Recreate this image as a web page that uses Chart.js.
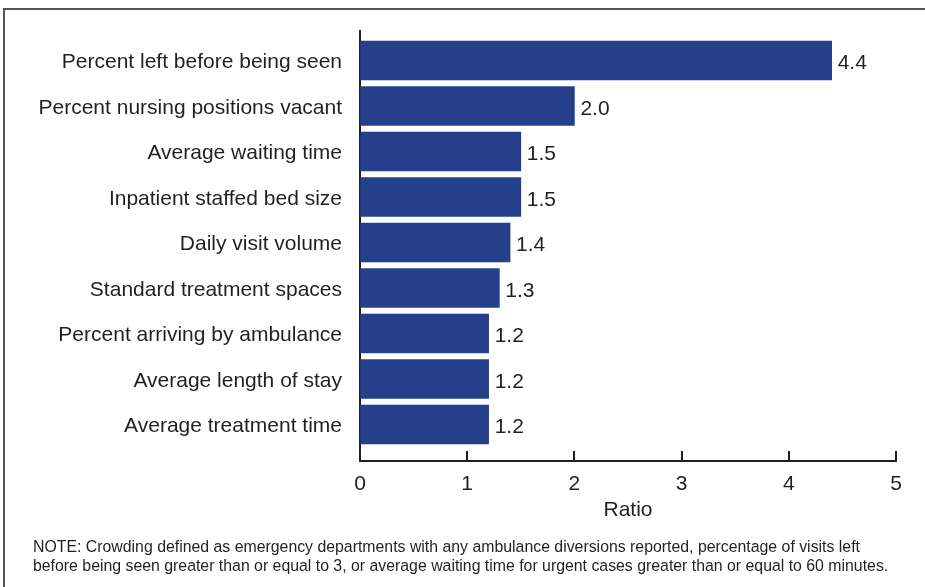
<!DOCTYPE html>
<html>
<head>
<meta charset="utf-8">
<script src="https://cdn.jsdelivr.net/npm/chart.js@4/dist/chart.umd.min.js"></script>
<style>
  html, body { margin: 0; padding: 0; background: #fff; }
  #wrap { position: relative; width: 925px; height: 587px; overflow: hidden; }
  #frame { position: absolute; left: 3px; top: 8px; width: 1000px; height: 700px;
           border-top: 2px solid #555; border-left: 2px solid #555; box-sizing: border-box; }
  canvas { position: absolute; left: 0; top: 0; }
  #note { position: absolute; left: 33px; top: 537px; font-family: "Liberation Sans", Arial, sans-serif;
          font-size: 15.85px; line-height: 19px; color: #231f20; white-space: nowrap; }
</style>
</head>
<body>
<div id="wrap">
  <div id="frame"></div>
  <canvas id="c" width="925" height="587"></canvas>
  <div id="note">NOTE: Crowding defined as emergency departments with any ambulance diversions reported, percentage of visits left<br>before being seen greater than or equal to 3, or average waiting time for urgent cases greater than or equal to 60 minutes.</div>
</div>
<script>
const categories = [
  "Percent left before being seen",
  "Percent nursing positions vacant",
  "Average waiting time",
  "Inpatient staffed bed size",
  "Daily visit volume",
  "Standard treatment spaces",
  "Percent arriving by ambulance",
  "Average length of stay",
  "Average treatment time"
];
const ratios = [4.4, 2.0, 1.5, 1.5, 1.4, 1.3, 1.2, 1.2, 1.2];
const xTicks = [0, 1, 2, 3, 4, 5];
const xTitle = "Ratio";

const INK = "#231f20";
const FONT = "'Liberation Sans', Arial, sans-serif";

const valueLabels = {
  id: "valueLabels",
  afterDatasetsDraw(chart) {
    const ctx = chart.ctx;
    const meta = chart.getDatasetMeta(0);
    ctx.save();
    ctx.fillStyle = INK;
    ctx.font = "21px " + FONT;
    ctx.textAlign = "left";
    ctx.textBaseline = "middle";
    meta.data.forEach((bar, i) => {
      ctx.fillText(ratios[i].toFixed(1), bar.x + 6, bar.y + 3);
    });
    ctx.restore();
  }
};

const innerTicks = {
  id: "innerTicks",
  afterDraw(chart) {
    const ctx = chart.ctx;
    const xs = chart.scales.x;
    const yb = chart.chartArea.bottom;
    ctx.save();
    ctx.strokeStyle = INK;
    ctx.lineWidth = 2;
    xTicks.forEach(v => {
      const px = Math.round(xs.getPixelForValue(v));
      ctx.beginPath();
      ctx.moveTo(px, yb - 10);
      ctx.lineTo(px, yb);
      ctx.stroke();
    });
    ctx.restore();
  }
};

new Chart(document.getElementById("c"), {
  type: "bar",
  data: {
    datasets: [{
      data: ratios.map((v, i) => ({ x: v, y: i })),
      backgroundColor: "#253f8a",
      borderWidth: 0,
      barThickness: 39
    }]
  },
  options: {
    indexAxis: "y",
    responsive: false,
    animation: false,
    devicePixelRatio: 1,
    layout: { padding: { left: 0, top: 31, right: 29, bottom: 64 } },
    plugins: { legend: { display: false }, tooltip: { enabled: false } },
    scales: {
      x: {
        type: "linear",
        min: 0, max: 5,
        afterBuildTicks: s => { s.ticks = xTicks.map(v => ({ value: v })); },
        afterFit: s => { s.height = 62; },
        grid: { display: true, drawOnChartArea: false, drawTicks: false },
        border: { display: true, color: INK, width: 2 },
        ticks: { color: INK, font: { family: FONT, size: 21 }, padding: 11 },
        title: { display: true, text: xTitle, color: INK, font: { family: FONT, size: 21 }, padding: { top: 2, bottom: 0 } }
      },
      y: {
        type: "linear",
        reverse: true,
        offset: false,
        min: -0.648, max: 8.802,
        afterBuildTicks: s => { s.ticks = categories.map((_, i) => ({ value: i })); },
        afterFit: s => { s.width = 360; },
        grid: { display: false, drawTicks: false, offset: false },
        border: { display: true, color: INK, width: 2 },
        ticks: { color: INK, font: { family: FONT, size: 21 }, padding: 18, labelOffset: 2,
                 callback: v => categories[v] }
      }
    }
  },
  plugins: [valueLabels, innerTicks]
});
</script>
</body>
</html>
